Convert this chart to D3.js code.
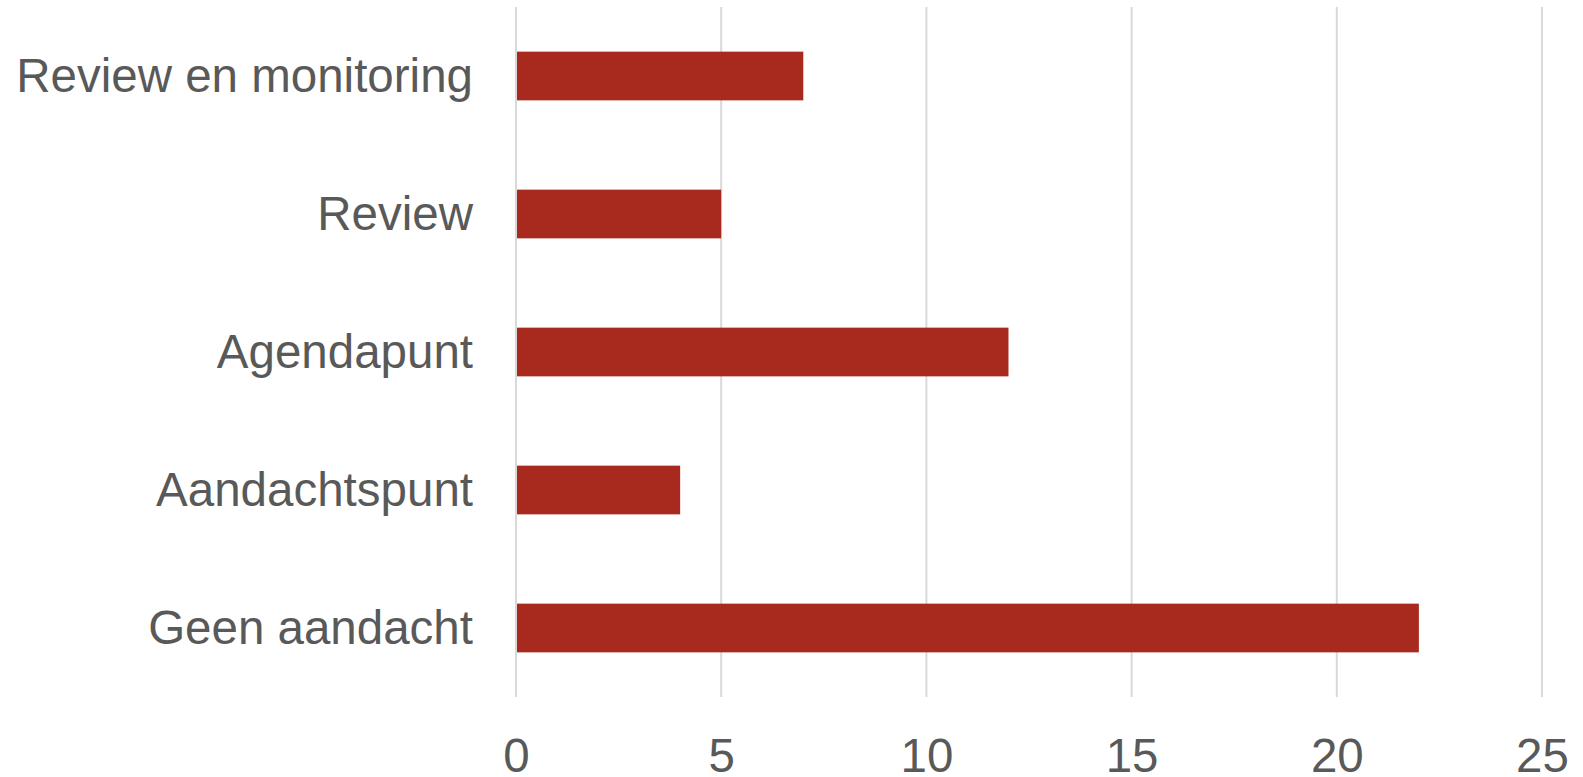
<!DOCTYPE html>
<html>
<head>
<meta charset="utf-8">
<script src="https://cdn.jsdelivr.net/npm/d3@7"></script>
<style>
  html, body { margin: 0; padding: 0; background: #fff; }
  svg { display: block; font-family: "Liberation Sans", Arial, sans-serif; }
</style>
</head>
<body>
<svg class="chart"></svg>
<script>
const categories = ['Review en monitoring', 'Review', 'Agendapunt', 'Aandachtspunt', 'Geen aandacht']
const values = [7, 5, 12, 4, 22]
const xTicks = [0, 5, 10, 15, 20, 25]

const w = 1583
const h = 777
const padLeft = 516
const padRight = 1542
const padTop = 7
const padBottom = 697
const textColor = '#595959'

const svg = d3.select('.chart')
  .attr('width', w)
  .attr('height', h)

const xScale = d3.scaleLinear()
  .domain([0, 25])
  .range([padLeft, padRight])

const yScale = d3.scaleBand()
  .domain(categories)
  .range([padTop, padBottom])
  .paddingInner(0.647)
  .paddingOuter(0.3235)

// gridlines
svg.append('g')
  .selectAll('line')
  .data(xTicks)
  .enter()
  .append('line')
  .attr('x1', d => xScale(d))
  .attr('x2', d => xScale(d))
  .attr('y1', padTop)
  .attr('y2', padBottom)
  .attr('stroke', '#d9d9d9')
  .attr('stroke-width', 2)

// bars
svg.append('g')
  .selectAll('rect')
  .data(categories)
  .enter()
  .append('rect')
  .attr('x', xScale(0) + 1)
  .attr('y', d => yScale(d))
  .attr('width', (d, i) => xScale(values[i]) - xScale(0) - 1)
  .attr('height', yScale.bandwidth())
  .attr('fill', '#a82a1f')

// x axis labels
const xAxis = d3.axisBottom(xScale)
  .tickValues(xTicks)
  .tickSize(0)
  .tickPadding(0)
svg.append('g')
  .attr('transform', 'translate(0,' + padBottom + ')')
  .call(xAxis)
  .call(g => g.select('.domain').remove())
  .call(g => g.selectAll('text')
    .attr('y', 75)
    .attr('dy', 0)
    .attr('fill', textColor)
    .style('font-size', '47.5px')
    .style('font-family', '"Liberation Sans", Arial, sans-serif'))

// y axis labels
const yAxis = d3.axisLeft(yScale)
  .tickSize(0)
  .tickPadding(43)
svg.append('g')
  .attr('transform', 'translate(' + padLeft + ',0)')
  .call(yAxis)
  .call(g => g.select('.domain').remove())
  .call(g => g.selectAll('text')
    .attr('dy', '0.34em')
    .attr('fill', textColor)
    .style('font-size', '47.5px')
    .style('font-family', '"Liberation Sans", Arial, sans-serif'))
</script>
</body>
</html>
